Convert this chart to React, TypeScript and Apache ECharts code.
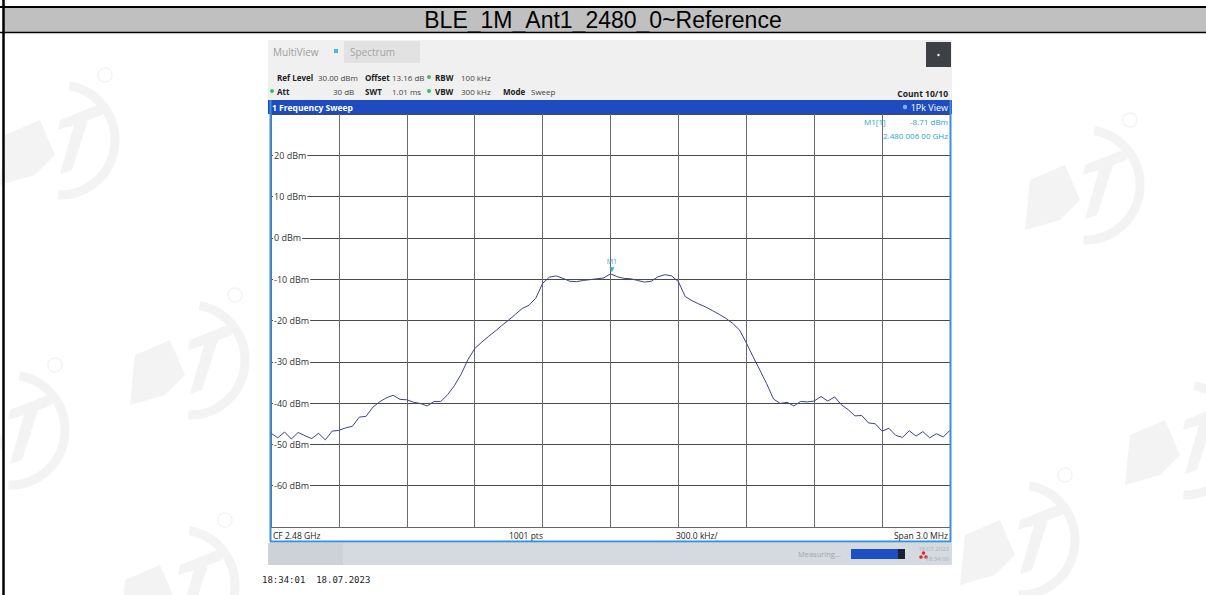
import React, { useEffect, useRef } from "react";
import * as echarts from "echarts";

// ---- data ----
const chartTitle = "BLE_1M_Ant1_2480_0~Reference";
const spanStartKHz = -1500;
const spanEndKHz = 1500;
const divKHz = 300;
const pointStepKHz = 30;
const yTicksDbm = [-70, -60, -50, -40, -30, -20, -10, 0, 10, 20, 30];
const traceDbm = [
  -47.3, -48.4, -47.0, -48.7, -47.1, -47.9, -48.6, -47.3, -48.9, -46.8,
  -46.6, -46.0, -45.6, -43.4, -43.2, -41.0, -39.7, -38.7, -38.1, -39.1,
  -39.2, -39.8, -40.1, -40.7, -39.6, -39.6, -38.0, -35.8, -33.0, -29.5,
  -26.8, -25.3, -23.9, -22.6, -21.2, -19.9, -18.5, -17.1, -16.3, -14.6,
  -11.0, -9.5, -9.2, -9.8, -10.5, -10.6, -10.3, -10.1, -9.9, -9.7,
  -8.7, -9.4, -9.8, -9.9, -10.3, -10.7, -10.5, -9.4, -8.9, -9.2,
  -10.6, -14.2, -15.2, -16.0, -16.7, -17.6, -18.5, -19.5, -20.7, -22.3,
  -25.4, -28.8, -32.0, -35.3, -39.0, -40.1, -39.8, -40.7, -39.6, -39.7,
  -39.5, -38.4, -39.5, -38.5, -40.4, -41.6, -43.1, -43.0, -44.8, -45.0,
  -46.8, -46.1, -47.8, -48.3, -46.7, -48.0, -46.9, -48.4, -47.4, -48.2,
  -46.6,
];
const markerFreqKHz = 6;
const markerDbm = -8.71;
const markerLabel = "M1";

const headerRow1 = [
  { t: "Ref Level", b: true, x: 277 },
  { t: "30.00 dBm", b: false, x: 318 },
  { t: "Offset", b: true, x: 365 },
  { t: "13.16 dB", b: false, x: 392 },
  { t: "RBW", b: true, x: 435 },
  { t: "100 kHz", b: false, x: 461 },
];
const headerRow2 = [
  { t: "Att", b: true, x: 277 },
  { t: "30 dB", b: false, x: 333 },
  { t: "SWT", b: true, x: 365 },
  { t: "1.01 ms", b: false, x: 392 },
  { t: "VBW", b: true, x: 435 },
  { t: "300 kHz", b: false, x: 461 },
  { t: "Mode", b: true, x: 503 },
  { t: "Sweep", b: false, x: 531 },
];
// faint logo watermarks (centre of each logo)
const watermarks = [
  { x: 60, y: 140 },
  { x: 190, y: 360 },
  { x: 10, y: 430 },
  { x: 180, y: 585 },
  { x: 1085, y: 185 },
  { x: 1185, y: 440 },
  { x: 1020, y: 540 },
];

const UI_FONT = "'Open Sans', 'Noto Sans', sans-serif";

export default function App() {
  const ref = useRef<HTMLDivElement>(null);
  useEffect(() => {
    if (!ref.current) return;
    const chart = echarts.init(ref.current, null, { renderer: "svg" });
    const data = traceDbm.map((v, i) => [spanStartKHz + i * pointStepKHz, v]);

    const txt = (text: string, x: number, y: number, opts: any = {}) => ({
      type: "text",
      z: 10,
      style: {
        text,
        x,
        y,
        fill: opts.fill || "#222",
        font: `${opts.bold ? "bold " : ""}${opts.size || 8}px ${opts.family || UI_FONT}`,
        textAlign: opts.align || "left",
        textVerticalAlign: "middle",
      },
    });

    const wmColor = "#f3f3f3";
    const logo = (cx: number, cy: number) => ({
      type: "group",
      x: cx,
      y: cy,
      z: 0,
      children: [
        {
          type: "arc",
          shape: { cx: 0, cy: 0, r: 55, startAngle: -1.4, endAngle: 1.6 },
          style: { stroke: wmColor, lineWidth: 9, fill: null },
        },
        {
          type: "polygon",
          shape: { points: [[-55, -5], [-20, -20], [-5, 15], [-25, 35], [-60, 45]] },
          style: { fill: wmColor },
        },
        {
          type: "polygon",
          shape: { points: [[0, -20], [45, -38], [42, -25], [28, -20], [12, 30], [0, 34], [14, -15], [-2, -10]] },
          style: { fill: wmColor },
        },
        {
          type: "circle",
          shape: { cx: 45, cy: -65, r: 7 },
          style: { stroke: wmColor, lineWidth: 1.5, fill: null },
        },
      ],
    });

    const graphics: any[] = [
      ...watermarks.map((w) => logo(w.x, w.y)),
      // outer frame / title band
      { type: "rect", shape: { x: 4, y: 7, width: 1202, height: 25 }, style: { fill: "#c0c0c0" }, z: 1 },
      { type: "line", shape: { x1: 0, y1: 7, x2: 1206, y2: 7 }, style: { stroke: "#000", lineWidth: 2 }, z: 2 },
      { type: "line", shape: { x1: 0, y1: 32.5, x2: 1206, y2: 32.5 }, style: { stroke: "#000", lineWidth: 1.5 }, z: 2 },
      { type: "line", shape: { x1: 3.5, y1: 0, x2: 3.5, y2: 595 }, style: { stroke: "#000", lineWidth: 2.5 }, z: 2 },
      txt(chartTitle, 603, 20, { size: 23, family: "'Liberation Sans', Arial, sans-serif", fill: "#000", align: "center" }),
      // screenshot header
      { type: "rect", shape: { x: 268, y: 40, width: 684, height: 61 }, style: { fill: "#f0f0f0" }, z: 1 },
      { type: "rect", shape: { x: 344, y: 41, width: 76, height: 22 }, style: { fill: "#e2e2e2" }, z: 2 },
      txt("MultiView", 273, 52, { size: 10, fill: "#9c9c9c" }),
      { type: "rect", shape: { x: 334, y: 49, width: 4, height: 4 }, style: { fill: "#4fb3e8" }, z: 3 },
      txt("Spectrum", 350, 52, { size: 10, fill: "#a4a4a4" }),
      { type: "rect", shape: { x: 926, y: 42, width: 25, height: 25 }, style: { fill: "#3d4044" }, z: 2 },
      { type: "circle", shape: { cx: 938.5, cy: 55, r: 1.2 }, style: { fill: "#fff" }, z: 3 },
      ...headerRow1.map((h) => txt(h.t, h.x, 77, { bold: h.b, size: 8, fill: h.b ? "#222" : "#444" })),
      ...headerRow2.map((h) => txt(h.t, h.x, 91, { bold: h.b, size: 8, fill: h.b ? "#222" : "#444" })),
      { type: "circle", shape: { cx: 429, cy: 77, r: 2 }, style: { fill: "#3cbf6a" }, z: 3 },
      { type: "circle", shape: { cx: 272, cy: 91, r: 2 }, style: { fill: "#3cbf6a" }, z: 3 },
      { type: "circle", shape: { cx: 429, cy: 91, r: 2 }, style: { fill: "#3cbf6a" }, z: 3 },
      txt("Count 10/10", 948, 93, { bold: true, size: 8.5, fill: "#222", align: "right" }),
      // blue title bar
      { type: "rect", shape: { x: 268, y: 100, width: 684, height: 14 }, style: { fill: "#1e4bbd" }, z: 2 },
      txt("1 Frequency Sweep", 272, 107, { bold: true, size: 8.5, fill: "#fff" }),
      { type: "circle", shape: { cx: 905, cy: 107, r: 2.2 }, style: { fill: "#7fb0ff" }, z: 3 },
      txt("1Pk View", 948, 107, { size: 9, fill: "#fff", align: "right" }),
      // marker readout
      txt("M1[1]", 864, 121, { size: 8, fill: "#2a9fd6" }),
      txt("-8.71 dBm", 948, 121, { size: 8, fill: "#2a9fd6", align: "right" }),
      txt("2.480 006 00 GHz", 948, 135, { size: 8, fill: "#2a9fd6", align: "right" }),
      // plot borders
      { type: "line", shape: { x1: 270.5, y1: 100, x2: 270.5, y2: 542 }, style: { stroke: "#3a8fd6", lineWidth: 2 }, z: 5 },
      { type: "line", shape: { x1: 950.5, y1: 100, x2: 950.5, y2: 542 }, style: { stroke: "#3a8fd6", lineWidth: 2 }, z: 5 },
      { type: "line", shape: { x1: 270, y1: 541.5, x2: 951, y2: 541.5 }, style: { stroke: "#3a8fd6", lineWidth: 2 }, z: 5 },
      { type: "line", shape: { x1: 271, y1: 527.5, x2: 950, y2: 527.5 }, style: { stroke: "#666", lineWidth: 1 }, z: 4 },
      txt("CF 2.48 GHz", 273, 535, { size: 8.5, fill: "#222" }),
      txt("1001 pts", 509, 535, { size: 8.5, fill: "#222" }),
      txt("300.0 kHz/", 676, 535, { size: 8.5, fill: "#222" }),
      txt("Span 3.0 MHz", 948, 535, { size: 8.5, fill: "#222", align: "right" }),
      // status bar
      { type: "rect", shape: { x: 268, y: 543, width: 684, height: 22 }, style: { fill: "#d5dae0" }, z: 1 },
      { type: "rect", shape: { x: 268, y: 543, width: 75, height: 22 }, style: { fill: "#cdd2d8" }, z: 2 },
      txt("Measuring...", 798, 554, { size: 7.5, fill: "#9aa6b6" }),
      { type: "rect", shape: { x: 851, y: 549, width: 54, height: 10 }, style: { fill: "#1c4fc2" }, z: 2 },
      { type: "rect", shape: { x: 898, y: 549, width: 7, height: 10 }, style: { fill: "#1a1f3a" }, z: 3 },
      { type: "circle", shape: { cx: 921, cy: 557, r: 1.8 }, style: { fill: "#d83030" }, z: 3 },
      { type: "circle", shape: { cx: 926, cy: 557, r: 1.8 }, style: { fill: "#d83030" }, z: 3 },
      { type: "circle", shape: { cx: 923.5, cy: 553, r: 1.8 }, style: { fill: "#d83030" }, z: 3 },
      txt("18.07.2023", 949, 549, { size: 6, fill: "#a8b0bc", align: "right" }),
      txt("18:34:00", 949, 559, { size: 6, fill: "#a8b0bc", align: "right" }),
      // timestamp
      txt("18:34:01  18.07.2023", 262, 580, { size: 9, family: "'DejaVu Sans Mono', 'Liberation Mono', monospace", fill: "#222" }),
    ];

    chart.setOption({
      animation: false,
      backgroundColor: "#fff",
      grid: { left: 271, top: 114, width: 679, height: 413, show: false },
      xAxis: {
        type: "value",
        min: spanStartKHz,
        max: spanEndKHz,
        interval: divKHz,
        axisLine: { show: false },
        axisTick: { show: false },
        axisLabel: { show: false },
        splitLine: { show: true, lineStyle: { color: "#6b6b6b", width: 1 } },
      },
      yAxis: {
        type: "value",
        min: yTicksDbm[0],
        max: yTicksDbm[yTicksDbm.length - 1],
        interval: 10,
        axisLine: { show: false },
        axisTick: { show: false },
        splitLine: { show: true, lineStyle: { color: "#4a4a4a", width: 1 } },
        axisLabel: {
          inside: true,
          margin: 2,
          color: "#333",
          fontSize: 9,
          fontFamily: UI_FONT,
          backgroundColor: "#fff",
          padding: [0, 1, 0, 1],
          formatter: (v: number) =>
            v === yTicksDbm[0] || v === yTicksDbm[yTicksDbm.length - 1] ? "" : `${v} dBm`,
        },
      },
      series: [
        {
          type: "line",
          data,
          showSymbol: false,
          lineStyle: { color: "#3d4190", width: 1 },
          z: 3,
          markPoint: {
            symbol: "triangle",
            symbolSize: [5, 5],
            symbolRotate: 180,
            symbolOffset: [0, -4],
            itemStyle: { color: "#3aa6d0" },
            label: {
              show: true,
              position: "top",
              distance: 2,
              formatter: markerLabel,
              color: "#3aa6d0",
              fontSize: 7,
              fontFamily: UI_FONT,
            },
            data: [{ coord: [markerFreqKHz, markerDbm], name: markerLabel }],
          },
        },
      ],
      graphic: graphics,
    });
    return () => chart.dispose();
  }, []);
  return (
    <div
      ref={ref}
      style={{ position: "fixed", left: 0, top: 0, width: 1206, height: 595, background: "#fff" }}
    />
  );
}
